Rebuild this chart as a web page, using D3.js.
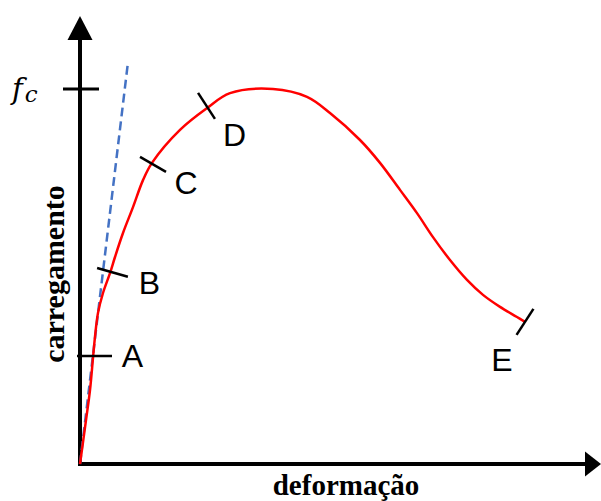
<title>Curva carga-deformação</title>
<body style="margin:0;background:#fff"></body>
<script src="https://d3js.org/d3.v7.min.js"></script>
<script>
// curve: deformation (arbitrary units) vs load (fraction of fc)
deformacao = [0, 0.12, 0.20, 0.26, 0.30, 0.36, 0.46, 0.60, 0.70, 0.86, 1.06, 1.26, 1.44, 2.00, 2.54, 3.00, 3.86, 4.54, 5.00, 5.60, 6.00, 6.40, 6.74, 7.06, 7.40, 7.74, 8.06, 8.40, 8.74, 8.90]
carga      = [0, 0.117, 0.197, 0.283, 0.339, 0.403, 0.456, 0.509, 0.552, 0.616, 0.685, 0.757, 0.803, 0.891, 0.949, 0.989, 1.000, 0.979, 0.936, 0.864, 0.803, 0.731, 0.669, 0.605, 0.544, 0.491, 0.451, 0.419, 0.392, 0.379]

// elastic (dashed) line
elasticoX = [0, 0.96]
elasticoY = [0, 1.072]

// stages on the curve
estagios = ['A', 'B', 'C', 'D', 'E']
estagioX = [0.29, 0.65, 1.46, 2.53, 8.90]
estagioY = [0.288, 0.511, 0.799, 0.955, 0.379]

fcValor = 1.0

W = 601, H = 501
svg = d3.select('body').append('svg')
    .attr('width', W)
    .attr('height', H)
    .style('display', 'block')

x = d3.scaleLinear().domain([0, 10]).range([80, 580])
y = d3.scaleLinear().domain([0, 1]).range([464, 89])

// axes
svg.append('line')
    .attr('x1', x(0)).attr('y1', y(0) + 2)
    .attr('x2', x(0)).attr('y2', 38)
    .attr('stroke', '#000').attr('stroke-width', 4)
svg.append('path')
    .attr('d', `M${x(0)},16 L${x(0) - 12.5},40 L${x(0) + 12.5},40 Z`)
    .attr('fill', '#000')
svg.append('line')
    .attr('x1', x(0) - 2).attr('y1', y(0))
    .attr('x2', 588).attr('y2', y(0))
    .attr('stroke', '#000').attr('stroke-width', 4)
svg.append('path')
    .attr('d', `M601,${y(0)} L585,${y(0) - 12.5} L585,${y(0) + 12.5} Z`)
    .attr('fill', '#000')

// fc tick + label
svg.append('line')
    .attr('x1', 63).attr('x2', 99)
    .attr('y1', y(fcValor)).attr('y2', y(fcValor))
    .attr('stroke', '#000').attr('stroke-width', 3)
fc = svg.append('text')
    .attr('x', 12).attr('y', y(fcValor) + 10)
    .attr('font-family', 'DejaVu Serif, Liberation Serif, serif')
    .attr('font-style', 'italic')
    .attr('font-size', 29)
fc.append('tspan').text('f')
fc.append('tspan').attr('font-size', 23).attr('dx', 2).attr('dy', 3).text('c')

// elastic dashed line
svg.append('line')
    .attr('x1', x(elasticoX[0])).attr('y1', y(elasticoY[0]))
    .attr('x2', x(elasticoX[1])).attr('y2', y(elasticoY[1]))
    .attr('stroke', '#4472c4').attr('stroke-width', 2.5)
    .attr('stroke-dasharray', '9,5')

// main curve
pts = deformacao.map((d, i) => [d, carga[i]])
line = d3.line().x(d => x(d[0])).y(d => y(d[1])).curve(d3.curveCatmullRom.alpha(0.5))
svg.append('path')
    .attr('d', line(pts))
    .attr('fill', 'none')
    .attr('stroke', '#ff0000')
    .attr('stroke-width', 2.5)

// stage ticks: angle (deg), half length, label offset
marcaAng = [0, 16, 30, 57, -57]
marcaMeio = [17.5, 16, 15, 15.5, 15.5]
rotuloDx = [38, 37, 33, 28, -23]
rotuloDy = [0, 11, 19, 29, 38]

estagios.forEach((s, i) => {
  cx = x(estagioX[i]); cy = y(estagioY[i])
  a = marcaAng[i] * Math.PI / 180, h = marcaMeio[i]
  svg.append('line')
      .attr('x1', cx - h * Math.cos(a)).attr('y1', cy - h * Math.sin(a))
      .attr('x2', cx + h * Math.cos(a)).attr('y2', cy + h * Math.sin(a))
      .attr('stroke', '#000').attr('stroke-width', 2.5)
  svg.append('text')
      .attr('x', cx + rotuloDx[i]).attr('y', cy + rotuloDy[i])
      .attr('text-anchor', 'middle')
      .attr('dominant-baseline', 'central')
      .attr('font-family', 'Liberation Sans, Arial, sans-serif')
      .attr('font-size', 32)
      .text(s)
})

// axis titles
svg.append('text')
    .attr('x', 346).attr('y', 495)
    .attr('text-anchor', 'middle')
    .attr('font-family', 'Liberation Serif, Times New Roman, serif')
    .attr('font-weight', 'bold')
    .attr('font-size', 29)
    .text('deformação')
svg.append('text')
    .attr('transform', 'translate(64,274) rotate(-90)')
    .attr('text-anchor', 'middle')
    .attr('font-family', 'Liberation Serif, Times New Roman, serif')
    .attr('font-weight', 'bold')
    .attr('font-size', 30)
    .text('carregamento')
</script>
